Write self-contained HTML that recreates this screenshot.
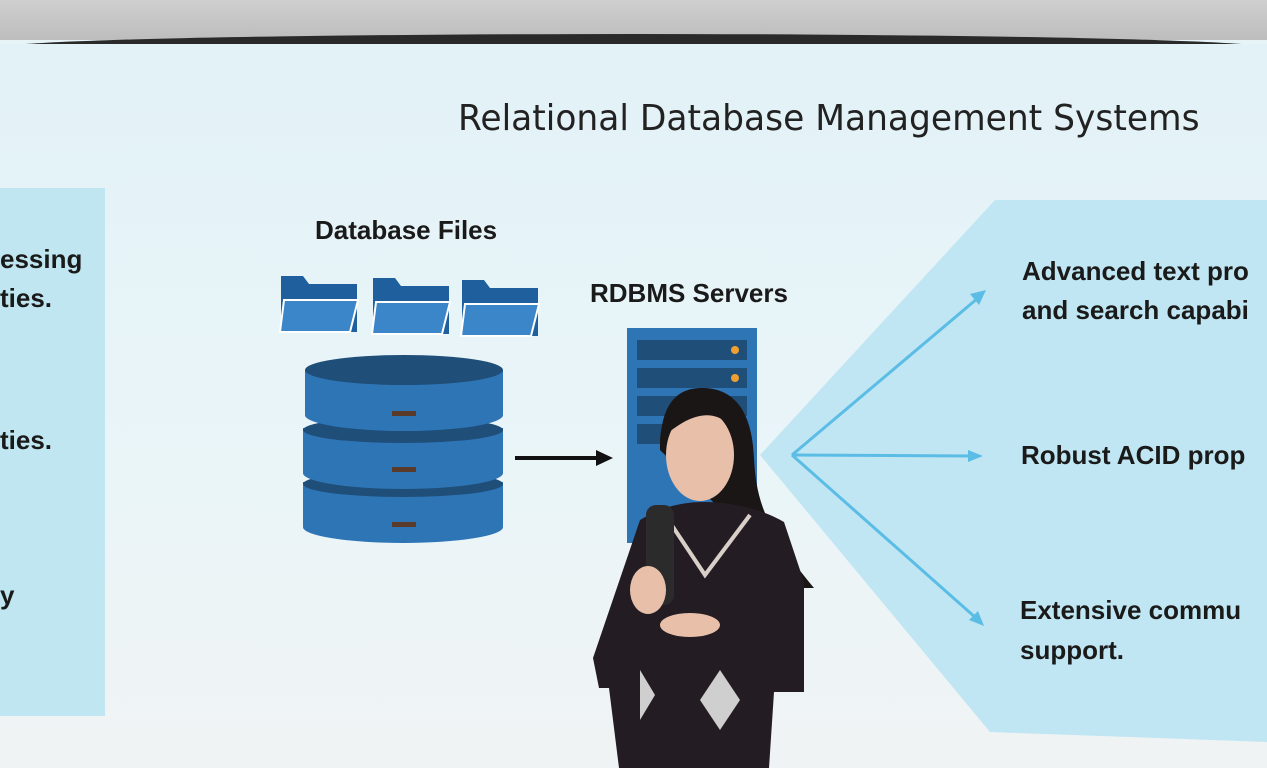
<!DOCTYPE html>
<html><head><meta charset="utf-8"><style>
body{margin:0;width:1267px;height:768px;overflow:hidden;position:relative;font-family:"Liberation Sans",sans-serif;background:#e6f3f7}
.t{position:absolute;font-weight:bold;color:#1a1a1a;font-size:26px;white-space:nowrap;line-height:1}
</style></head><body>
<div style="position:absolute;left:0;top:0;width:1267px;height:40px;background:linear-gradient(#cfcfcf,#bdbdbd)"></div>
<div style="position:absolute;left:0;top:34px;width:1267px;height:14px;background:#2a2a2a;border-radius:50%/100% 100% 0 0"></div>
<div style="position:absolute;left:0;top:44px;width:1267px;height:724px;background:linear-gradient(180deg,#e2f2f7,#eaf5f8 60%,#f0f3f4)"></div>
<div style="position:absolute;left:0;top:188px;width:105px;height:528px;background:#c0e7f1"></div>
<svg style="position:absolute;left:0;top:0" width="1267" height="768">
<polygon points="995,200 1267,200 1267,742 990,732 760,455" fill="#bfe6f2"/>
<g>
<path d="M281,276h22l6,8h48v48h-76z" fill="#1f5f9e"/><path d="M284,300h74l-8,32h-70z" fill="#3b86c9" stroke="#fff" stroke-width="2"/>
<path d="M373,278h22l6,8h48v48h-76z" fill="#1f5f9e"/><path d="M376,302h74l-8,32h-70z" fill="#3b86c9" stroke="#fff" stroke-width="2"/>
<path d="M462,280h22l6,8h48v48h-76z" fill="#1f5f9e"/><path d="M465,304h74l-8,32h-70z" fill="#3b86c9" stroke="#fff" stroke-width="2"/>
</g>
<g>
<path d="M303,482v45a100,16 0 0 0 200,0v-45z" fill="#2e75b6"/><ellipse cx="403" cy="484" rx="100" ry="13" fill="#1f4e79"/>
<path d="M303,428v45a100,16 0 0 0 200,0v-45z" fill="#2e75b6"/><ellipse cx="403" cy="430" rx="100" ry="13" fill="#1f4e79"/>
<path d="M305,370v45a99,16 0 0 0 198,0v-45z" fill="#2e75b6"/><ellipse cx="404" cy="370" rx="99" ry="15" fill="#1f4e79"/>
<rect x="392" y="411" width="24" height="5" fill="#5a3a2a"/><rect x="392" y="467" width="24" height="5" fill="#5a3a2a"/><rect x="392" y="522" width="24" height="5" fill="#5a3a2a"/>
</g>
<line x1="515" y1="458" x2="598" y2="458" stroke="#111" stroke-width="4"/><polygon points="596,450 613,458 596,466" fill="#111"/>
<rect x="627" y="328" width="130" height="215" fill="#2e75b6"/>
<g fill="#1f4e79"><rect x="637" y="340" width="110" height="20"/><rect x="637" y="368" width="110" height="20"/><rect x="637" y="396" width="110" height="20"/><rect x="637" y="424" width="110" height="20"/></g>
<circle cx="735" cy="350" r="4" fill="#f0a030"/><circle cx="735" cy="378" r="4" fill="#f0a030"/>
<g stroke="#5bbde6" stroke-width="3" fill="none"><line x1="792" y1="455" x2="978" y2="298"/><line x1="792" y1="455" x2="972" y2="456"/><line x1="792" y1="455" x2="976" y2="618"/></g>
<g fill="#5bbde6"><polygon points="986,290 970,294 979,305"/><polygon points="983,456 968,450 968,462"/><polygon points="984,626 978,611 969,620"/></g>
<path d="M660,450c0-50,20-62,42-62c30,0,50,20,52,70c2,40,10,70,60,130l-10,0c-20-10-40-20-44-40z" fill="#1a1616"/>
<ellipse cx="700" cy="455" rx="34" ry="46" fill="#e8c0aa"/>
<path d="M660,440c4-40,30-55,50-50c20,5,30,25,28,50c-10-25-35-40-78,0z" fill="#1a1616"/>
<path d="M640,520c20-12,40-18,64-18c30,0,60,8,80,20l20,60l0,110l-30,0l-5,76h-150l-10-80l-10,0l-6-30z" fill="#231c22"/>
<path d="M665,515l40,60l45-60" stroke="#d8d0c8" stroke-width="4" fill="none"/>
<rect x="646" y="505" width="28" height="100" rx="10" fill="#2b2b2b"/>
<ellipse cx="648" cy="590" rx="18" ry="24" fill="#e8c0aa"/>
<ellipse cx="690" cy="625" rx="30" ry="12" fill="#e8c0aa"/>
<polygon points="720,670 740,700 720,730 700,700" fill="#cfcfcf"/><polygon points="640,670 655,695 640,720" fill="#cfcfcf"/>
</svg>
<div style="position:absolute;left:458px;top:98px;font-size:36px;color:#222;white-space:nowrap;font-family:'DejaVu Sans','Liberation Sans',sans-serif;transform:scaleX(0.957);transform-origin:left">Relational Database Management Systems</div>
<div class="t" style="left:315px;top:217px;font-size:26px">Database Files</div>
<div class="t" style="left:590px;top:280px;font-size:26px">RDBMS Servers</div>
<div class="t" style="left:1022px;top:258px">Advanced text pro</div>
<div class="t" style="left:1022px;top:297px">and search capabi</div>
<div class="t" style="left:1021px;top:442px">Robust ACID prop</div>
<div class="t" style="left:1020px;top:597px">Extensive commu</div>
<div class="t" style="left:1020px;top:637px">support.</div>
<div class="t" style="left:0;top:246px">essing</div>
<div class="t" style="left:0;top:285px">ties.</div>
<div class="t" style="left:0;top:427px">ties.</div>
<div class="t" style="left:0;top:582px">y</div>
</body></html>
